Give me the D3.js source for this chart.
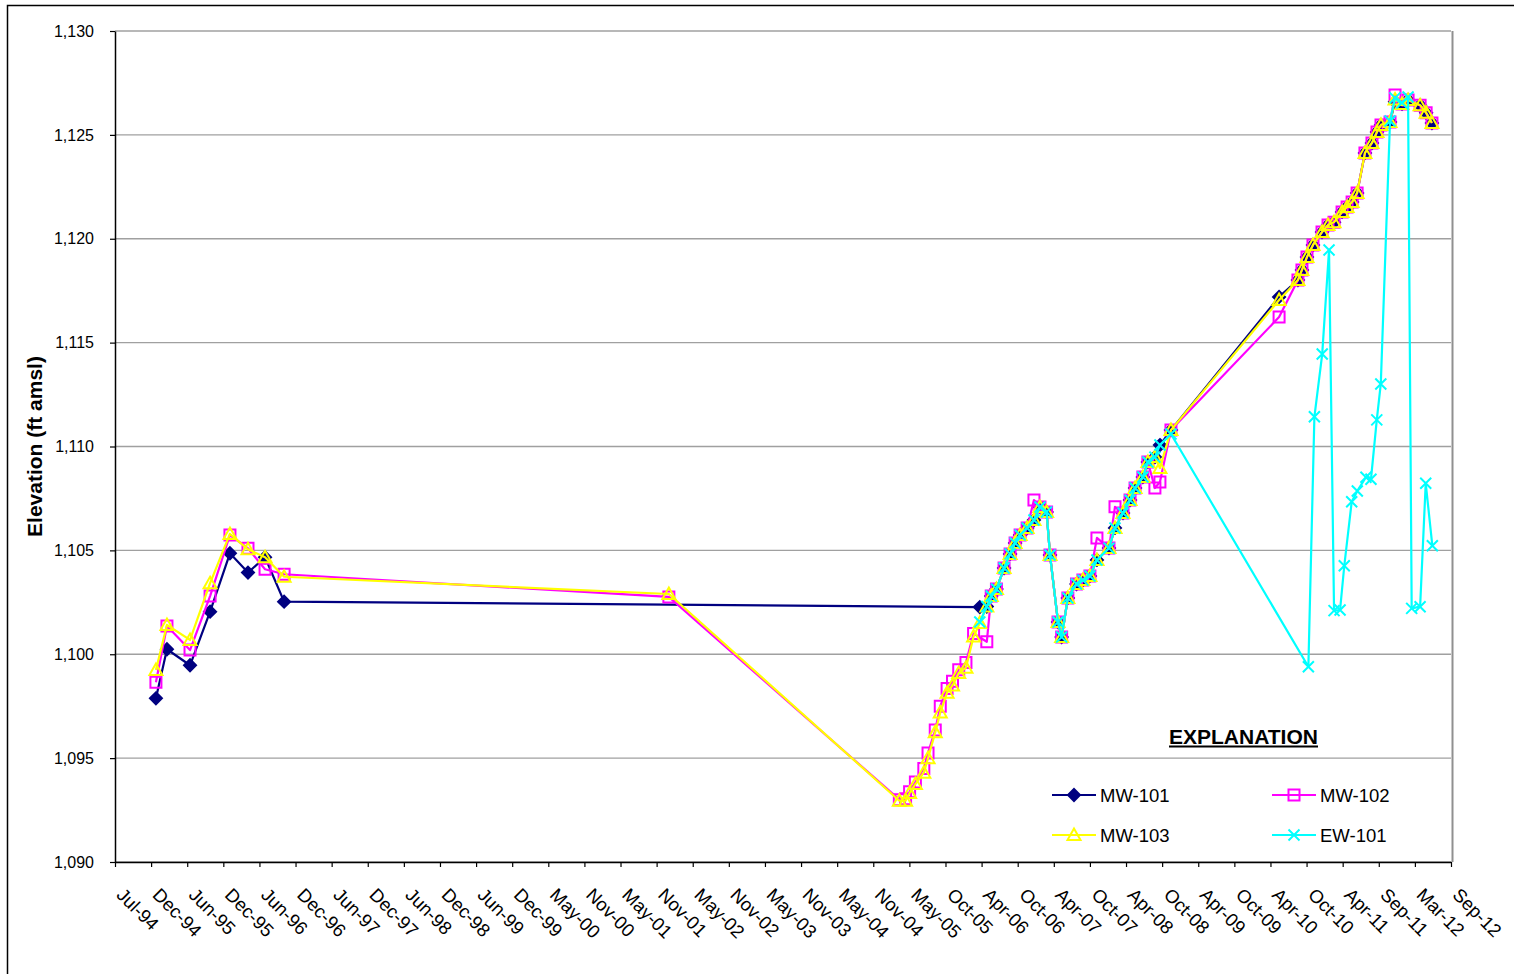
<!DOCTYPE html>
<html>
<head>
<meta charset="utf-8">
<script src="https://cdn.jsdelivr.net/npm/d3@7"></script>
<style>
  body { margin: 0; background: #fff; }
  svg text { font-family: Arial, "Liberation Sans", sans-serif; }
</style>
</head>
<body>
<div id="chart"></div>
<script>
// Water level data (date, elevation ft amsl)
const mw101 = [
  ["1995-01-21", 1097.88], ["1995-03-17", 1100.24], ["1995-07-10", 1099.47], ["1995-10-18", 1102.05],
  ["1996-01-25", 1104.86], ["1996-04-24", 1103.93], ["1996-07-18", 1104.67], ["1996-10-21", 1102.53],
  ["2006-04-20", 1102.27], ["2006-05-25", 1102.30], ["2006-06-16", 1102.80], ["2006-07-12", 1103.14],
  ["2006-08-19", 1104.15], ["2006-09-18", 1104.83], ["2006-10-13", 1105.36], ["2006-11-07", 1105.74],
  ["2006-12-12", 1106.08], ["2007-01-15", 1106.46], ["2007-02-14", 1107.09], ["2007-03-19", 1106.85],
  ["2007-04-05", 1104.78], ["2007-05-15", 1101.55], ["2007-06-02", 1100.83], ["2007-07-03", 1102.71],
  ["2007-08-15", 1103.38], ["2007-09-16", 1103.57], ["2007-10-21", 1103.77], ["2007-11-25", 1104.54],
  ["2008-01-24", 1105.11], ["2008-02-23", 1106.08], ["2008-04-03", 1106.80], ["2008-05-08", 1107.42],
  ["2008-06-02", 1108.00], ["2008-07-11", 1108.53], ["2008-08-05", 1109.25], ["2008-09-09", 1109.49],
  ["2008-10-04", 1110.07], ["2008-11-28", 1110.79],
  ["2010-05-21", 1117.20], ["2010-08-23", 1118.01], ["2010-09-12", 1118.50], ["2010-10-07", 1119.12],
  ["2010-11-06", 1119.70], ["2010-12-21", 1120.32], ["2011-01-20", 1120.66], ["2011-02-19", 1120.80],
  ["2011-03-31", 1121.29], ["2011-04-25", 1121.53], ["2011-05-20", 1121.77], ["2011-06-14", 1122.20],
  ["2011-07-23", 1124.13], ["2011-08-27", 1124.61], ["2011-09-21", 1125.14], ["2011-10-11", 1125.48],
  ["2011-11-25", 1125.62], ["2011-12-20", 1126.60], ["2012-01-24", 1126.49], ["2012-02-23", 1126.68],
  ["2012-04-23", 1126.43], ["2012-05-23", 1126.06], ["2012-06-21", 1125.57]
];

const mw102 = [
  ["1995-01-21", 1098.65], ["1995-03-17", 1101.36], ["1995-07-10", 1100.20], ["1995-10-18", 1102.80],
  ["1996-01-25", 1105.74], ["1996-04-24", 1105.10], ["1996-07-18", 1104.09], ["1996-10-21", 1103.85],
  ["2002-01-21", 1102.76],
  ["2005-03-15", 1093.00], ["2005-04-15", 1093.05], ["2005-05-05", 1093.38], ["2005-06-03", 1093.85],
  ["2005-07-15", 1094.50], ["2005-08-05", 1095.25], ["2005-09-10", 1096.35], ["2005-10-05", 1097.50],
  ["2005-11-08", 1098.35], ["2005-12-05", 1098.70], ["2006-01-05", 1099.25], ["2006-02-10", 1099.60],
  ["2006-03-20", 1101.00], ["2006-05-25", 1100.60], ["2006-06-16", 1102.80], ["2006-07-12", 1103.14],
  ["2006-08-19", 1104.15], ["2006-09-18", 1104.83], ["2006-10-13", 1105.36], ["2006-11-07", 1105.74],
  ["2006-12-12", 1106.08], ["2007-01-15", 1107.42], ["2007-02-14", 1107.09], ["2007-03-19", 1106.85],
  ["2007-04-05", 1104.78], ["2007-05-15", 1101.55], ["2007-06-02", 1100.83], ["2007-07-03", 1102.71],
  ["2007-08-15", 1103.38], ["2007-09-16", 1103.57], ["2007-10-21", 1103.77], ["2007-11-25", 1105.60],
  ["2008-01-24", 1105.11], ["2008-02-23", 1107.10], ["2008-04-03", 1106.80], ["2008-05-08", 1107.42],
  ["2008-06-02", 1108.00], ["2008-07-11", 1108.53], ["2008-08-05", 1109.25], ["2008-09-09", 1108.00],
  ["2008-10-04", 1108.29], ["2008-11-28", 1110.79],
  ["2010-05-21", 1116.23], ["2010-08-23", 1118.01], ["2010-09-12", 1118.50], ["2010-10-07", 1119.12],
  ["2010-11-06", 1119.70], ["2010-12-21", 1120.32], ["2011-01-20", 1120.66], ["2011-02-19", 1120.80],
  ["2011-03-31", 1121.29], ["2011-04-25", 1121.53], ["2011-05-20", 1121.77], ["2011-06-14", 1122.20],
  ["2011-07-23", 1124.13], ["2011-08-27", 1124.61], ["2011-09-21", 1125.14], ["2011-10-11", 1125.48],
  ["2011-11-25", 1125.62], ["2011-12-20", 1126.92], ["2012-01-24", 1126.49], ["2012-02-23", 1126.68],
  ["2012-04-23", 1126.43], ["2012-05-23", 1126.06], ["2012-06-21", 1125.57]
];

const mw103 = [
  ["1995-01-21", 1099.24], ["1995-03-17", 1101.41], ["1995-07-10", 1100.69], ["1995-10-18", 1103.42],
  ["1996-01-25", 1105.79], ["1996-04-24", 1105.05], ["1996-07-18", 1104.67], ["1996-10-21", 1103.73],
  ["2002-01-21", 1102.90],
  ["2005-03-15", 1092.95], ["2005-04-15", 1092.95], ["2005-05-05", 1093.32], ["2005-06-03", 1093.75],
  ["2005-07-15", 1094.30], ["2005-08-05", 1095.00], ["2005-09-10", 1096.25], ["2005-10-05", 1097.20],
  ["2005-11-08", 1098.15], ["2005-12-05", 1098.50], ["2006-01-05", 1099.10], ["2006-02-10", 1099.35],
  ["2006-03-20", 1100.85], ["2006-04-20", 1101.50], ["2006-05-25", 1102.30], ["2006-06-16", 1102.80],
  ["2006-07-12", 1103.14], ["2006-08-19", 1104.15], ["2006-09-18", 1104.83], ["2006-10-13", 1105.36],
  ["2006-11-07", 1105.74], ["2006-12-12", 1106.08], ["2007-01-15", 1106.46], ["2007-02-14", 1107.09],
  ["2007-03-19", 1106.85], ["2007-04-05", 1104.78], ["2007-05-15", 1101.55], ["2007-06-02", 1100.83],
  ["2007-07-03", 1102.71], ["2007-08-15", 1103.38], ["2007-09-16", 1103.57], ["2007-10-21", 1103.77],
  ["2007-11-25", 1104.54], ["2008-01-24", 1105.11], ["2008-02-23", 1106.08], ["2008-04-03", 1106.80],
  ["2008-05-08", 1107.42], ["2008-06-02", 1108.00], ["2008-07-11", 1108.53], ["2008-08-05", 1109.25],
  ["2008-09-09", 1109.49], ["2008-10-04", 1108.96], ["2008-11-28", 1110.79],
  ["2010-05-21", 1117.05], ["2010-08-23", 1118.01], ["2010-09-12", 1118.50], ["2010-10-07", 1119.12],
  ["2010-11-06", 1119.70], ["2010-12-21", 1120.32], ["2011-01-20", 1120.66], ["2011-02-19", 1120.80],
  ["2011-03-31", 1121.29], ["2011-04-25", 1121.53], ["2011-05-20", 1121.77], ["2011-06-14", 1122.20],
  ["2011-07-23", 1124.13], ["2011-08-27", 1124.61], ["2011-09-21", 1125.14], ["2011-10-11", 1125.48],
  ["2011-11-25", 1125.62], ["2011-12-20", 1126.70], ["2012-01-24", 1126.49], ["2012-02-23", 1126.68],
  ["2012-04-23", 1126.43], ["2012-05-23", 1126.06], ["2012-06-21", 1125.57]
];

const ew101 = [
  ["2006-04-20", 1101.55], ["2006-05-25", 1102.30], ["2006-06-16", 1102.80], ["2006-07-12", 1103.14],
  ["2006-08-19", 1104.15], ["2006-09-18", 1104.83], ["2006-10-13", 1105.36], ["2006-11-07", 1105.74],
  ["2006-12-12", 1106.08], ["2007-01-15", 1106.46], ["2007-02-14", 1107.09], ["2007-03-19", 1106.85],
  ["2007-04-05", 1104.78], ["2007-05-15", 1101.55], ["2007-06-02", 1100.83], ["2007-07-03", 1102.71],
  ["2007-08-15", 1103.38], ["2007-09-16", 1103.57], ["2007-10-21", 1103.77], ["2007-11-25", 1104.54],
  ["2008-01-24", 1105.11], ["2008-02-23", 1106.08], ["2008-04-03", 1106.80], ["2008-05-08", 1107.42],
  ["2008-06-02", 1108.00], ["2008-07-11", 1108.53], ["2008-08-05", 1109.25], ["2008-09-09", 1109.49],
  ["2008-10-04", 1110.07], ["2008-11-28", 1110.60],
  ["2010-10-14", 1099.40], ["2010-11-13", 1111.43], ["2010-12-22", 1114.45], ["2011-01-25", 1119.46],
  ["2011-02-19", 1102.10], ["2011-03-21", 1102.13], ["2011-04-11", 1104.26], ["2011-05-18", 1107.34],
  ["2011-06-15", 1107.86], ["2011-07-28", 1108.52], ["2011-08-22", 1108.42], ["2011-09-20", 1111.28],
  ["2011-10-10", 1113.01], ["2011-11-25", 1125.67], ["2011-12-20", 1126.78], ["2012-01-23", 1126.54],
  ["2012-02-23", 1126.82], ["2012-03-12", 1102.21], ["2012-04-23", 1102.29], ["2012-05-21", 1108.23],
  ["2012-06-23", 1105.22]
];

const seriesNames = ["MW-101", "MW-102", "MW-103", "EW-101"];
const seriesColors = ["#000080", "#ff00ff", "#ffff00", "#00ffff"];
const seriesMarkers = ["diamond", "square", "triangle", "cross"];

// x axis: Excel date axis, 180 day major unit from Jul-94
const axisStart = "1994-07-01";
const majorUnitDays = 180;
const tickCount = 38;
const yTicks = [1090, 1095, 1100, 1105, 1110, 1115, 1120, 1125, 1130];

const width = 1514;
const height = 974;
const plot = {left: 115, right: 1451, top: 31, bottom: 862};

const parse = d3.timeParse("%Y-%m-%d");
const start = parse(axisStart);
const xTickValues = d3.range(tickCount).map(i => d3.timeDay.offset(start, i * majorUnitDays));

const x = d3.scaleTime()
  .domain([start, xTickValues[xTickValues.length - 1]])
  .range([plot.left, plot.right]);
const y = d3.scaleLinear()
  .domain([1090, 1130])
  .range([plot.bottom, plot.top]);

const svg = d3.select('#chart')
  .append('svg')
    .attr('width', width)
    .attr('height', height);

// chart frame
svg.append('rect')
  .attr('x', 7.5).attr('y', 5.5)
  .attr('width', width + 20).attr('height', height + 20)
  .attr('fill', 'none')
  .attr('stroke', '#000')
  .attr('stroke-width', 1.5);

// gridlines
svg.append('g')
  .selectAll('line')
  .data(yTicks)
  .join('line')
    .attr('x1', plot.left).attr('x2', plot.right)
    .attr('y1', d => y(d)).attr('y2', d => y(d))
    .attr('stroke', '#a0a0a0')
    .attr('stroke-width', 1.3);

// plot area right edge
svg.append('line')
  .attr('x1', plot.right + 1.5).attr('x2', plot.right + 1.5)
  .attr('y1', plot.top).attr('y2', plot.bottom)
  .attr('stroke', '#909090')
  .attr('stroke-width', 2);

// y axis
const yAxis = svg.append('g')
  .attr('transform', `translate(${plot.left}, 0)`)
  .call(d3.axisLeft(y).tickValues(yTicks).tickFormat(d3.format(',')).tickSize(5).tickSizeOuter(0));
yAxis.select('.domain').attr('stroke', '#000').attr('stroke-width', 1.5);
yAxis.selectAll('.tick line').attr('stroke', '#000').attr('stroke-width', 1.2);
yAxis.selectAll('text')
  .attr('x', -21)
  .style('font-size', '16px')
  .attr('fill', '#000');

// x axis
const fmt = d3.timeFormat('%b-%y');
const xAxis = svg.append('g')
  .attr('transform', `translate(0, ${plot.bottom})`)
  .call(d3.axisBottom(x).tickValues(xTickValues).tickFormat(fmt).tickSize(5).tickSizeOuter(0));
xAxis.select('.domain').attr('stroke', '#000').attr('stroke-width', 1.5);
xAxis.selectAll('.tick line').attr('stroke', '#000').attr('stroke-width', 1.2);
xAxis.selectAll('text')
  .attr('x', 0).attr('y', 0).attr('dy', 0)
  .attr('transform', 'translate(0, 34) rotate(45)')
  .style('text-anchor', 'start')
  .style('font-size', '18.5px')
  .attr('fill', '#000');

// y axis title
svg.append('text')
  .attr('transform', `translate(42, ${(plot.top + plot.bottom) / 2}) rotate(-90)`)
  .attr('text-anchor', 'middle')
  .style('font-size', '21px')
  .style('font-weight', 'bold')
  .text('Elevation (ft amsl)');

// marker shapes
function markerPath(type) {
  if (type === 'diamond') return 'M0,-6L6,0L0,6L-6,0Z';
  if (type === 'square') return 'M-5.5,-5.5H5.5V5.5H-5.5Z';
  if (type === 'triangle') return 'M0,-6.5L6.5,5H-6.5Z';
  return 'M-5.5,-5.5L5.5,5.5M5.5,-5.5L-5.5,5.5';
}
function drawMarker(g, type, color) {
  const p = g.append('path').attr('d', markerPath(type)).attr('stroke', color).attr('stroke-width', 2);
  if (type === 'diamond') p.attr('fill', color); else p.attr('fill', 'none');
}

const line = d3.line()
  .x(d => x(parse(d[0])))
  .y(d => y(d[1]));

const allSeries = [mw101, mw102, mw103, ew101];
allSeries.forEach((data, i) => {
  const g = svg.append('g').attr('class', `series series-${i}`);
  g.append('path')
    .attr('d', line(data))
    .attr('fill', 'none')
    .attr('stroke', seriesColors[i])
    .attr('stroke-width', 2.2)
    .attr('stroke-linejoin', 'round');
  data.forEach(d => {
    const mg = g.append('g').attr('transform', `translate(${x(parse(d[0]))}, ${y(d[1])})`);
    drawMarker(mg, seriesMarkers[i], seriesColors[i]);
  });
});

// legend
const legend = svg.append('g');
legend.append('text')
  .attr('x', 1169).attr('y', 743.5)
  .style('font-size', '21px')
  .style('font-weight', 'bold')
  .text('EXPLANATION');
legend.append('line')
  .attr('x1', 1169).attr('x2', 1318)
  .attr('y1', 746.5).attr('y2', 746.5)
  .attr('stroke', '#000').attr('stroke-width', 2);

const legendPos = [[1052, 795], [1272, 795], [1052, 835], [1272, 835]];
seriesNames.forEach((name, i) => {
  const [lx, ly] = legendPos[i];
  legend.append('line')
    .attr('x1', lx).attr('x2', lx + 44)
    .attr('y1', ly).attr('y2', ly)
    .attr('stroke', seriesColors[i]).attr('stroke-width', 2.2);
  const mg = legend.append('g').attr('transform', `translate(${lx + 22}, ${ly})`);
  drawMarker(mg, seriesMarkers[i], seriesColors[i]);
  legend.append('text')
    .attr('x', lx + 48).attr('y', ly + 6.5)
    .style('font-size', '18.5px')
    .text(name);
});
</script>
</body>
</html>
